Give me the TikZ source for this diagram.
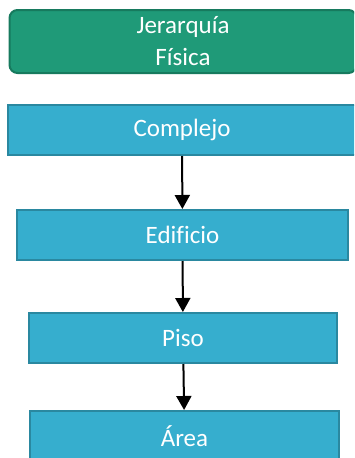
\documentclass[tikz,border=0pt]{standalone}
\usepackage{fontspec}
\setmainfont[Ligatures=NoCommon]{Carlito}
\usetikzlibrary{arrows.meta}
\definecolor{verde}{HTML}{1F9A78}
\definecolor{verdeborde}{HTML}{177A5E}
\definecolor{azul}{HTML}{36AECE}
\definecolor{azulborde}{HTML}{2A88A0}
\begin{document}
\begin{tikzpicture}[x=1pt,y=-1pt,
    caja/.style={draw=azulborde,fill=azul,line width=2pt,text=white,inner sep=0pt,minimum height=50pt,font=\fontsize{25}{31}\selectfont},
    titulo/.style={draw=verdeborde,fill=verde,line width=2pt,rounded corners=8pt,text=white,inner sep=0pt,align=center,minimum width=347pt,minimum height=63pt,font=\fontsize{25}{32}\selectfont},
    flecha/.style={line width=2pt,-{Triangle[width=15pt,length=14pt]}}]
    \useasboundingbox (0,0) rectangle (354,458);
    \clip (0,0) rectangle (354,458);
    \node[titulo] (jerarquia) at (183,41.5){Jerarquía\\Física};
    \node[caja,minimum width=348pt] (complejo) at (182,130){Complejo};
    \node[caja,minimum width=331pt] (edificio) at (182.5,235){Edificio};
    \node[caja,minimum width=308pt] (piso) at (183,338){Piso};
    \node[caja,minimum width=309pt] (area) at (184.5,436){Área};
    \draw[flecha](complejo)--(edificio);
    \draw[flecha](edificio)--(piso);
    \draw[flecha](piso)--(area);
\end{tikzpicture}
\end{document}
